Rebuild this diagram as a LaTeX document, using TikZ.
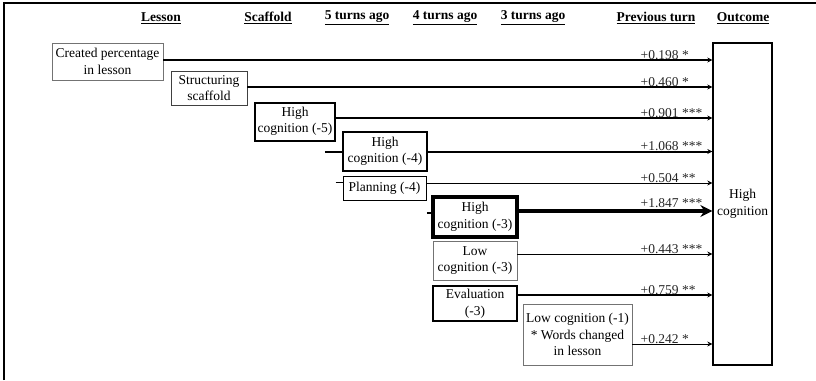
\documentclass[tikz,border=0pt]{standalone}
\usepackage{fontspec}
\setmainfont{Liberation Serif}
\usetikzlibrary{positioning,arrows.meta}

\begin{document}
\begin{tikzpicture}[
  x=1pt, y=-1pt,
  font=\fontsize{13.5}{16.5}\selectfont,
  hd/.style={font=\fontsize{13.5}{16.5}\selectfont\bfseries, inner sep=1pt},
  var/.style={draw, align=center, inner sep=1pt, fill=white},
  thinvar/.style={var, draw=black!55, line width=0.9pt},
  coef/.style={anchor=south west, inner sep=0.5pt, text=black!85},
  link/.style={-{Stealth[length=5pt, width=5pt]}}
]
  \useasboundingbox (0,0) rectangle (816,380);
  \draw[line width=1.5pt] (4,380) -- (4,3) -- (816,3);

  % column heads
  \node[hd] (hlesson) at (161,18) {\underline{Lesson}};
  \node[hd] (hscaf) at (268,18) {\underline{Scaffold}};
  \node[hd] (hfive) at (357,18) {\underline{5 turns ago}};
  \node[hd] (hfour) at (445,18) {\underline{4 turns ago}};
  \node[hd] (hthree) at (533,18) {\underline{3 turns ago}};
  \node[hd] (hprev) at (656,18) {\underline{Previous turn}};
  \node[hd] (hout) at (743,18) {\underline{Outcome}};

  % predictors
  \node[thinvar, minimum width=111pt, minimum height=37pt] (lesson) at (107.5,61.5) {Created percentage\\in lesson};
  \node[thinvar, draw=black!75, minimum width=76pt, minimum height=34pt] (scaf) at (209,88) {Structuring\\scaffold};
  \node[var, line width=2pt, minimum width=80pt, minimum height=38pt] (hc5) at (295,121.5) {High\\cognition (-5)};
  \node[var, line width=2.5pt, minimum width=84pt, minimum height=39pt] (hc4) at (385,151.5) {High\\cognition (-4)};
  \node[var, line width=1pt, minimum width=83pt, minimum height=24pt] (plan4) at (384.5,188) {Planning (-4)};
  \node[var, line width=4.5pt, minimum width=84pt, minimum height=40pt] (hc3) at (475,217) {High\\cognition (-3)};
  \node[thinvar, minimum width=84pt, minimum height=39pt] (lc3) at (475,260.5) {Low\\cognition (-3)};
  \node[var, line width=2pt, minimum width=84pt, minimum height=35pt] (eval3) at (475,303.5) {Evaluation\\(-3)};
  \node[thinvar, minimum width=109pt, minimum height=61pt] (lc1) at (577.5,334.5) {Low cognition (-1)\\* Words changed\\in lesson};

  % outcome
  \node[var, line width=1.3pt, minimum width=59pt, minimum height=322pt] (out) at (742.5,204) {High\\cognition};

  \coordinate (lx) at (640,0);
  \coordinate (s1) at ([yshift=1.5pt]lesson.east);
  \coordinate (s2) at ([yshift=1pt]scaf.east);
  \coordinate (s3) at ([yshift=3.5pt]hc5.east);
  \coordinate (s4) at (hc4.east);
  \coordinate (s5) at ([yshift=5pt]plan4.east);
  \coordinate (s6) at ([yshift=6pt]hc3.east);
  \coordinate (s7) at ([yshift=6.5pt]lc3.east);
  \coordinate (s8) at ([yshift=8.5pt]eval3.east);
  \coordinate (s9) at ([yshift=-9.5pt]lc1.east);

  \draw[link, line width=2pt] (s1) -- (s1 -| out.west);
  \draw[link, line width=2pt] (s2) -- (s2 -| out.west);
  \draw[link, line width=2.5pt] (s3) -- (s3 -| out.west);
  \draw[link, line width=2pt] (s4) -- (s4 -| out.west);
  \draw[link, line width=1pt] (s5) -- (s5 -| out.west);
  \draw[-{Stealth[length=12pt, width=12pt]}, line width=4pt] (s6) -- (s6 -| out.west);
  \draw[link, line width=1pt] (s7) -- (s7 -| out.west);
  \draw[link, line width=1.5pt] (s8) -- (s8 -| out.west);
  \draw[link, line width=1pt] (s9) -- (s9 -| out.west);

  \node[coef] (c1) at (s1 -| lx) {+0.198 *};
  \node[coef] (c2) at (s2 -| lx) {+0.460 *};
  \node[coef] (c3) at (s3 -| lx) {+0.901 ***};
  \node[coef] (c4) at (s4 -| lx) {+1.068 ***};
  \node[coef] (c5) at (s5 -| lx) {+0.504 **};
  \node[coef, yshift=3pt] (c6) at (s6 -| lx) {+1.847 ***};
  \node[coef] (c7) at (s7 -| lx) {+0.443 ***};
  \node[coef] (c8) at (s8 -| lx) {+0.759 **};
  \node[coef] (c9) at (s9 -| lx) {+0.242 *};

  % short stubs left of boxes
  \coordinate (t4) at ([xshift=-17pt]hc4.west);
  \coordinate (t5) at ([xshift=-7pt,yshift=6pt]plan4.west);
  \coordinate (t6) at ([xshift=-4pt,yshift=4pt]hc3.west);
  \draw[line width=2pt] (t4) -- (hc4.west);
  \draw[line width=0.8pt] (t5) -- (t5 -| plan4.west);
  \draw[line width=2pt] (t6) -- (t6 -| hc3.west);
\end{tikzpicture}
\end{document}
